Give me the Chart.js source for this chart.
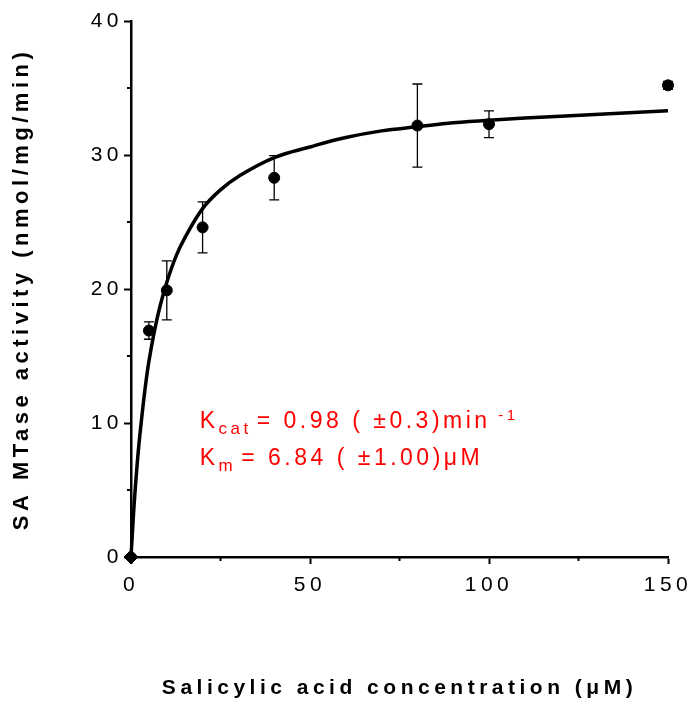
<!DOCTYPE html>
<html>
<head>
<meta charset="utf-8">
<script src="https://cdn.jsdelivr.net/npm/chart.js@4.4.1/dist/chart.umd.min.js"></script>
<style>
  html, body { margin: 0; padding: 0; background: #fff; }
  #chart { display: block; }
</style>
</head>
<body>
<canvas id="chart" width="692" height="702"></canvas>
<script>
// measured points (mean +/- error)
const concentrations = [0, 5, 10, 20, 40, 80, 100, 150];
const activity = [0, 16.9, 19.9, 24.6, 28.3, 32.2, 32.3, 35.2];
const activityErr = [0, 0.65, 2.2, 1.9, 1.65, 3.1, 1.0, 0.3];

// fitted curve
const fitX = [0, 0.5, 1, 2, 3, 4, 5, 6.5, 8, 10, 12.5, 15, 20, 25, 30, 40, 50, 60, 70, 80, 90, 100, 120, 150];
const fitY = [0, 2.3, 4.4, 7.8, 10.4, 12.7, 14.6, 16.8, 18.6, 20.5, 22.4, 23.8, 26.0, 27.4, 28.4, 29.8, 30.6, 31.3, 31.8, 32.1, 32.4, 32.6, 32.9, 33.3];

// axes
const xTicks = [0, 50, 100, 150];
const xMinorTicks = [25, 75, 125];
const yTicks = [0, 10, 20, 30, 40];
const yMinorTicks = [5, 15, 25, 35];
const xTitle = 'Salicylic acid concentration (\u03bcM)';
const yTitle = 'SA MTase activity (nmol/mg/min)';

// fit parameters text
const kineticsLines = [
  [['K', 'main'], ['cat', 'sub'], ['= 0.98 ( \u00b10.3)min', 'main'], [' -1', 'sup']],
  [['K', 'main'], ['m', 'sub'], ['= 6.84 ( \u00b11.00)\u03bcM', 'main']]
];

const FONT = '"Liberation Sans", Arial, Helvetica, sans-serif';
const tickFont = { family: FONT, size: 21 };

const spacingPlugin = {
  id: 'spacing',
  beforeDraw(chart) {
    chart.ctx.letterSpacing = '4.5px';
  }
};

const errorBarPlugin = {
  id: 'errorBars',
  beforeDatasetsDraw(chart) {
    const { ctx, scales: { x, y } } = chart;
    ctx.save();
    ctx.strokeStyle = '#000';
    ctx.lineWidth = 1.3;
    concentrations.forEach((c, i) => {
      const err = activityErr[i];
      if (!err) return;
      const px = x.getPixelForValue(c);
      const top = y.getPixelForValue(activity[i] + err);
      const bot = y.getPixelForValue(activity[i] - err);
      ctx.beginPath();
      ctx.moveTo(px, top); ctx.lineTo(px, bot);
      ctx.moveTo(px - 5, top); ctx.lineTo(px + 5, top);
      ctx.moveTo(px - 5, bot); ctx.lineTo(px + 5, bot);
      ctx.stroke();
    });
    ctx.restore();
  }
};

const minorTickPlugin = {
  id: 'minorTicks',
  afterDraw(chart) {
    const { ctx, scales: { x, y } } = chart;
    ctx.save();
    ctx.strokeStyle = '#000';
    ctx.lineWidth = 2;
    ctx.beginPath();
    xMinorTicks.forEach(v => {
      const px = x.getPixelForValue(v);
      ctx.moveTo(px, y.bottom); ctx.lineTo(px, y.bottom + 4);
    });
    yMinorTicks.forEach(v => {
      const py = y.getPixelForValue(v);
      ctx.moveTo(x.left, py); ctx.lineTo(x.left - 4, py);
    });
    ctx.stroke();
    ctx.restore();
  }
};

const kineticsPlugin = {
  id: 'kinetics',
  afterDraw(chart) {
    const { ctx, scales: { x, y } } = chart;
    ctx.save();
    ctx.fillStyle = '#ff0000';
    ctx.textBaseline = 'alphabetic';
    ctx.textAlign = 'left';
    ctx.letterSpacing = '3.5px';
    kineticsLines.forEach((parts, i) => {
      let px = x.getPixelForValue(19.2);
      const base = y.getPixelForValue(9.63) + i * 37;
      parts.forEach(([txt, kind]) => {
        const size = kind === 'main' ? 23 : (kind === 'sub' ? 17 : 15);
        const dy = kind === 'sub' ? 6 : (kind === 'sup' ? -8 : 0);
        ctx.font = size + 'px ' + FONT;
        ctx.fillText(txt, px, base + dy);
        px += ctx.measureText(txt).width + (kind === 'sub' ? 5 : 0);
      });
    });
    ctx.restore();
  }
};

new Chart(document.getElementById('chart'), {
  data: {
    datasets: [{
      type: 'scatter',
      label: 'measured',
      data: concentrations.map((c, i) => ({ x: c, y: activity[i] })),
      backgroundColor: '#000',
      borderColor: '#000',
      pointRadius: ctx => ctx.dataIndex === 0 ? 7 : 5.5,
      pointStyle: ctx => ctx.dataIndex === 0 ? 'rectRot' : 'circle',
      pointHoverRadius: 5.5,
      clip: false,
      order: 0
    }, {
      type: 'line',
      label: 'fit',
      data: fitX.map((v, i) => ({ x: v, y: fitY[i] })),
      borderColor: '#000',
      borderWidth: 3.5,
      pointRadius: 0,
      fill: false,
      tension: 0.4,
      clip: false,
      order: 1
    }]
  },
  options: {
    responsive: false,
    animation: false,
    devicePixelRatio: 1,
    layout: { padding: { left: 0, right: 24, top: 21, bottom: 0 } },
    plugins: { legend: { display: false }, tooltip: { enabled: false } },
    scales: {
      x: {
        type: 'linear', min: 0, max: 150,
        afterBuildTicks: scale => { scale.ticks = xTicks.map(v => ({ value: v })); },
        ticks: { color: '#000', font: tickFont, padding: 9, maxRotation: 0 },
        grid: { drawOnChartArea: false, tickLength: 7, tickWidth: 2, tickColor: '#000' },
        border: { display: true, color: '#000', width: 2.5 },
        title: { display: true, text: xTitle, color: '#000', font: { family: FONT, size: 21, weight: 'bold' }, padding: { top: 0, bottom: 1 } },
        afterFit: scale => { scale.height = 145; scale.paddingLeft = 0; scale.paddingRight = 0; }
      },
      y: {
        type: 'linear', min: 0, max: 40,
        afterBuildTicks: scale => { scale.ticks = yTicks.map(v => ({ value: v })); },
        ticks: { color: '#000', font: tickFont, padding: 1 },
        grid: { drawOnChartArea: false, tickLength: 7, tickWidth: 2, tickColor: '#000' },
        border: { display: true, color: '#000', width: 2.5 },
        title: { display: true, text: yTitle, color: '#000', font: { family: FONT, size: 22, weight: 'bold' }, padding: { top: 9, bottom: 0 } },
        afterFit: scale => { scale.width = 131; scale.paddingTop = 0; scale.paddingBottom = 0; }
      }
    }
  },
  plugins: [spacingPlugin, errorBarPlugin, minorTickPlugin, kineticsPlugin]
});
</script>
</body>
</html>
